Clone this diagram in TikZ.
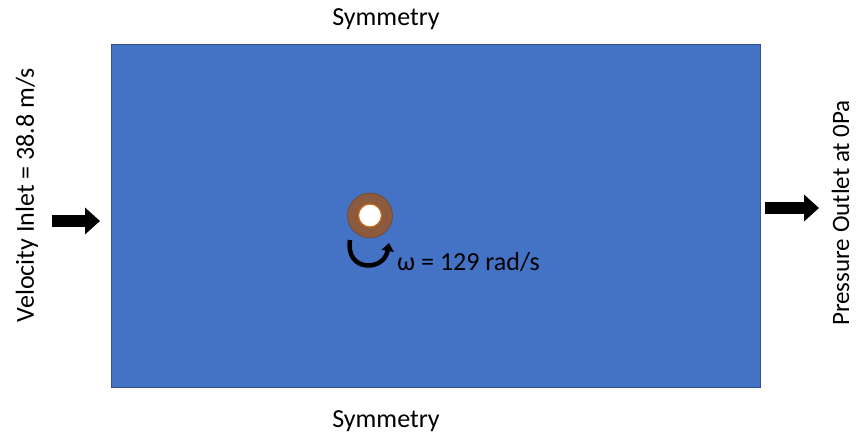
\documentclass[tikz,border=0pt]{standalone}
\usepackage{fontspec}
\setmainfont{Carlito}
\usetikzlibrary{arrows.meta,positioning,calc}
\definecolor{domainblue}{RGB}{68,114,196}
\definecolor{domainedge}{RGB}{47,82,143}
\definecolor{cylbrown}{RGB}{140,90,60}
\definecolor{cylring}{RGB}{197,110,30}
\tikzset{
  bclabel/.style={font=\fontsize{26}{30}\selectfont,text=black,inner sep=0pt,anchor=base},
  flowarrow/.style={line width=12pt,-{Triangle[length=15pt,width=26pt]}},
}
\begin{document}
\begin{tikzpicture}[x=1pt,y=-1pt,>=Stealth]
  \useasboundingbox (0,0) rectangle (857,432);
  % 計算領域
  \fill[domainblue,draw=domainedge,line width=0.8pt] (111,44) rectangle (760,387);
  % 境界条件
  \node[bclabel] (symtop) at (386,25){Symmetry};
  \node[bclabel] (symbot) at (386,427){Symmetry};
  \node[bclabel,rotate=90] (inlet) at (34,195){Velocity Inlet = 38.8 m/s};
  \node[bclabel,rotate=90,font=\fontsize{25}{30}\selectfont] (outlet) at (849,213){Pressure Outlet at 0Pa};
  % 流入・流出の矢印
  \coordinate (inA) at (52,221);
  \coordinate (inB) at (100,221);
  \draw[flowarrow] (inA)--(inB);
  \coordinate (outA) at (765,208);
  \coordinate (outB) at (819,208);
  \draw[flowarrow] (outA)--(outB);
  % 回転円柱
  \coordinate (cyl) at (370,215.5);
  \fill[cylbrown,draw=cylbrown!80!black,line width=0.6pt] (cyl) circle (22.5);
  \fill[white,draw=cylring,line width=1.2pt] (cyl) circle (11.5);
  % 回転方向
  \coordinate (rotA) at (350,240);
  \coordinate (rotB) at (389,243);
  \draw[line width=4.5pt,-{Triangle[length=8pt,width=12pt]}]
    (rotA) .. controls (345,272) and (384,272) .. (rotB);
  \node[bclabel,anchor=base west] (omega) at (397,270){ω = 129 rad/s};
\end{tikzpicture}
\end{document}
